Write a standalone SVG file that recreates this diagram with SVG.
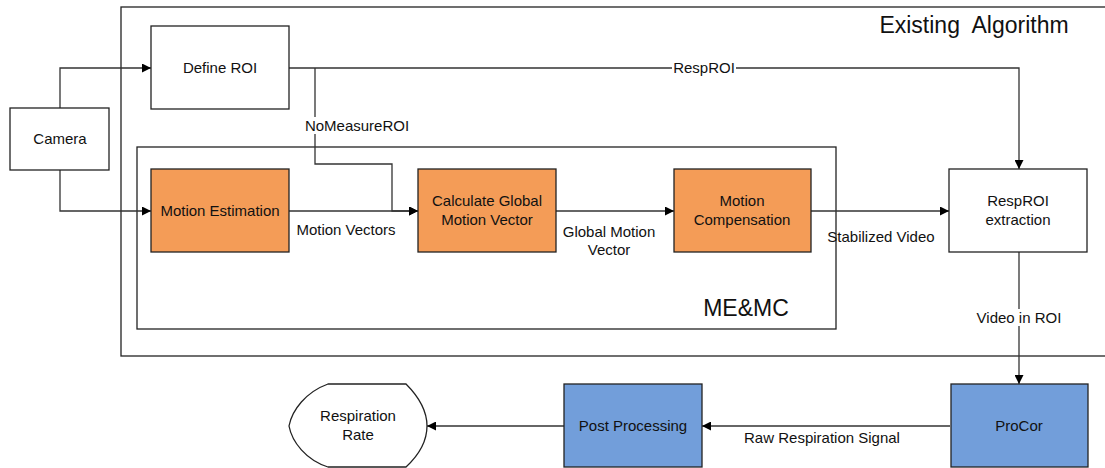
<svg xmlns="http://www.w3.org/2000/svg" width="1105" height="468" viewBox="0 0 1105 468">
  <style>
    text { font-family: "Liberation Sans", Arial, sans-serif; font-size: 15px; fill: #111; text-anchor: middle; }
    .big { font-size: 23px; white-space: pre; }
    .frame { fill: none; stroke: #222; stroke-width: 1.3; }
    .box { fill: #fff; stroke: #222; stroke-width: 1.3; }
    .orange { fill: #F49C57; stroke: #222; stroke-width: 1.3; }
    .blue { fill: #729EDA; stroke: #222; stroke-width: 1.3; }
    .wire { fill: none; stroke: #333; stroke-width: 1.3; }
    .arrow { marker-end: url(#head); }
  </style>
  <defs>
    <marker id="head" viewBox="0 0 10 10" refX="10" refY="5" markerWidth="9" markerHeight="9" markerUnits="userSpaceOnUse" orient="auto">
      <path d="M0,0 L10,5 L0,10 Z" fill="#000"/>
    </marker>
  </defs>

  <rect width="1105" height="468" fill="#fff"/>

  <!-- container frames -->
  <g id="existing-algorithm">
    <rect class="frame" x="121" y="7" width="995" height="349"/>
    <text class="big" x="974" y="33">Existing  Algorithm</text>
  </g>
  <g id="me-mc">
    <rect class="frame" x="137" y="147" width="699" height="182"/>
    <text class="big" x="746" y="316">ME&amp;MC</text>
  </g>

  <!-- connectors -->
  <g id="connectors">
    <path class="wire arrow" d="M60,108 V68 H151"/>
    <path class="wire arrow" d="M60,170 V211 H151"/>
    <path class="wire arrow" d="M289,68 H1019 V169"/>
    <path class="wire arrow" d="M315,68 V164 H392 V211 H418"/>
    <path class="wire arrow" d="M289,211 H418"/>
    <path class="wire arrow" d="M556,211 H674"/>
    <path class="wire arrow" d="M811,211 H949"/>
    <path class="wire arrow" d="M1019,252 V384"/>
    <path class="wire arrow" d="M950,426 H702"/>
    <path class="wire arrow" d="M564,426 H427"/>

    <!-- labels with knock-out backgrounds -->
    <rect x="672" y="60" width="64" height="16" fill="#fff"/>
    <text x="704" y="73">RespROI</text>
    <rect x="302" y="117" width="110" height="17" fill="#fff"/>
    <text x="357" y="131">NoMeasureROI</text>
    <text x="346" y="235">Motion Vectors</text>
    <text x="609" y="237">Global Motion</text>
    <text x="609" y="255">Vector</text>
    <text x="881" y="242">Stabilized Video</text>
    <rect x="975" y="309" width="88" height="17" fill="#fff"/>
    <text x="1019" y="323">Video in ROI</text>
    <text x="822" y="443">Raw Respiration Signal</text>
  </g>

  <!-- nodes -->
  <g id="camera">
    <rect class="box" x="10" y="108" width="99" height="62"/>
    <text x="60" y="144">Camera</text>
  </g>
  <g id="define-roi">
    <rect class="box" x="151" y="26" width="138" height="83"/>
    <text x="220" y="73">Define ROI</text>
  </g>
  <g id="motion-estimation">
    <rect class="orange" x="151" y="169" width="138" height="83"/>
    <text x="220" y="216">Motion Estimation</text>
  </g>
  <g id="global-motion-vector">
    <rect class="orange" x="418" y="169" width="138" height="83"/>
    <text x="487" y="206">Calculate Global</text>
    <text x="487" y="225">Motion Vector</text>
  </g>
  <g id="motion-compensation">
    <rect class="orange" x="674" y="169" width="137" height="83"/>
    <text x="742" y="206">Motion</text>
    <text x="742" y="225">Compensation</text>
  </g>
  <g id="resproi-extraction">
    <rect class="box" x="949" y="169" width="138" height="83"/>
    <text x="1018" y="206">RespROI</text>
    <text x="1018" y="225">extraction</text>
  </g>
  <g id="procor">
    <rect class="blue" x="951" y="384" width="137" height="83"/>
    <text x="1019" y="431">ProCor</text>
  </g>
  <g id="post-processing">
    <rect class="blue" x="564" y="384" width="138" height="83"/>
    <text x="633" y="431">Post Processing</text>
  </g>
  <g id="respiration-rate">
    <path class="box" d="M328,384 L406,384 C420,398 427,412 427,426 C427,440 420,454 406,467 L328,467 C306,460 292,442 289,426 C292,410 306,392 328,384 Z"/>
    <text x="358" y="421">Respiration</text>
    <text x="358" y="440">Rate</text>
  </g>
</svg>
